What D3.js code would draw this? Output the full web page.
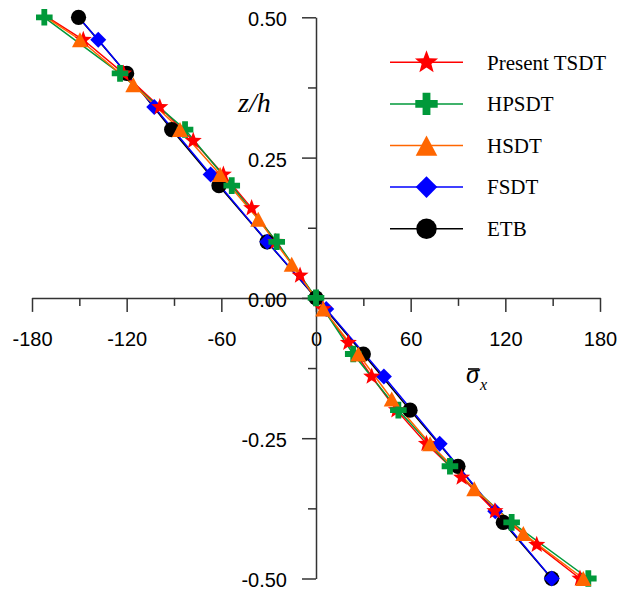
<!DOCTYPE html>
<html>
<head>
<meta charset="utf-8">
<script src="https://cdn.jsdelivr.net/npm/d3@7"></script>
<style>
  body { margin: 0; background: #fff; }
  svg { display: block; }
</style>
</head>
<body>
<svg id="stressViz" width="627" height="604"></svg>
<script>
// ticks
const xTicks = [-180, -120, -60, 0, 60, 120, 180];
const xMinorTicks = [-150, -90, -30, 30, 90, 150];
const yTicks = [0.5, 0.25, 0, -0.25, -0.5];
const yMinorTicks = [0.375, 0.125, -0.125, -0.375];

const seriesNames = ["Present TSDT", "HPSDT", "HSDT", "FSDT", "ETB"];

// Present TSDT (first point is the line end at the top face)
const tsdtZ = [0.5, 0.46, 0.40, 0.34, 0.28, 0.22, 0.16, 0.10, 0.04, -0.02, -0.08, -0.14, -0.20, -0.26, -0.32, -0.38, -0.44, -0.50];
const tsdtX = [-170, -147.5, -122, -99, -77.8, -58.7, -40.8, -25.5, -10.1, 4.5, 20.5, 35.3, 51, 70, 92.3, 113.4, 139.9, 167.3];

// HPSDT
const hpsdtZ = [0.5, 0.4, 0.3, 0.2, 0.1, 0, -0.1, -0.2, -0.3, -0.4, -0.5];
const hpsdtX = [-172.2, -124.2, -83, -53.4, -24.9, 0, 23.6, 52.2, 84.9, 124, 172.6];

// HSDT
const hsdtZ = [0.5, 0.46, 0.38, 0.30, 0.22, 0.14, 0.06, -0.02, -0.10, -0.18, -0.26, -0.34, -0.42, -0.50];
const hsdtX = [-171, -149.6, -115.8, -86.2, -60.8, -36.6, -15.4, 4.6, 26.8, 48, 72.3, 100.3, 131.4, 169.4];

// FSDT
const fsdtZ = [0.5, 0.46, 0.34, 0.22, 0.10, -0.02, -0.14, -0.26, -0.38, -0.50];
const fsdtX = [-150.5, -138, -102.5, -66.8, -30.9, 6.5, 43, 78.4, 113.6, 149.4];

// ETB
const etbZ = [0.5, 0.4, 0.3, 0.2, 0.1, 0, -0.1, -0.2, -0.3, -0.4, -0.5];
const etbX = [-150.5, -120, -91.5, -61.5, -31, 0, 30, 59.6, 90, 118.7, 149.4];

const SERIES = [
  { name: seriesNames[0], z: tsdtZ, x: tsdtX, color: "#ff0000", marker: "star", markFrom: 1 },
  { name: seriesNames[1], z: hpsdtZ, x: hpsdtX, color: "#00993a", marker: "plus", markFrom: 0 },
  { name: seriesNames[2], z: hsdtZ, x: hsdtX, color: "#ff6600", marker: "triangle", markFrom: 1 },
  { name: seriesNames[3], z: fsdtZ, x: fsdtX, color: "#0000ff", marker: "diamond", markFrom: 1 },
  { name: seriesNames[4], z: etbZ, x: etbX, color: "#000000", marker: "circle", markFrom: 0 }
];

// marker drawing order (bottom to top)
const markerOrder = [4, 3, 0, 1, 2];

run();

function run () {
  const svg = d3.select("#stressViz");
  const s = computeScales();
  drawAxes(svg, s);
  drawSeries(svg, s);
  drawLegend(svg);
}

function computeScales () {
  return {
    x: d3.scaleLinear().domain([-180, 180]).range([32, 600]),
    y: d3.scaleLinear().domain([-0.5, 0.5]).range([578.5, 17.3])
  };
}

function markerPath (type, big) {
  const k = big ? 1.35 : 1;
  const p = d3.path();
  if (type === "star") {
    const R = 9 * k, r = R * 0.42;
    for (let i = 0; i < 10; i++) {
      const a = -Math.PI / 2 + i * Math.PI / 5;
      const rr = i % 2 === 0 ? R : r;
      if (i === 0) p.moveTo(rr * Math.cos(a), rr * Math.sin(a));
      else p.lineTo(rr * Math.cos(a), rr * Math.sin(a));
    }
  } else if (type === "plus") {
    const a = 8.3 * k, t = 2.9 * k;
    p.moveTo(-t, -a); p.lineTo(t, -a); p.lineTo(t, -t); p.lineTo(a, -t);
    p.lineTo(a, t); p.lineTo(t, t); p.lineTo(t, a); p.lineTo(-t, a);
    p.lineTo(-t, t); p.lineTo(-a, t); p.lineTo(-a, -t); p.lineTo(-t, -t);
  } else if (type === "triangle") {
    const w = 16 * k, h = 15 * k;
    p.moveTo(0, -h / 2); p.lineTo(w / 2, h / 2); p.lineTo(-w / 2, h / 2);
  } else if (type === "diamond") {
    const r = 8 * k;
    p.moveTo(0, -r); p.lineTo(r, 0); p.lineTo(0, r); p.lineTo(-r, 0);
  } else {
    const r = 7.6 * k;
    p.moveTo(r, 0); p.arc(0, 0, r, 0, 2 * Math.PI);
  }
  p.closePath();
  return p.toString();
}

function styleAxis (g) {
  g.selectAll(".domain").attr("stroke", "#333").attr("stroke-width", 1.5);
  g.selectAll(".tick line").attr("stroke", "#333").attr("stroke-width", 1.5);
  g.attr("font-family", "'Liberation Sans', Arial, sans-serif")
   .attr("font-size", 20);
  g.selectAll(".tick text").attr("fill", "#000");
}

function drawAxes (svg, s) {
  // x axis through z = 0
  const gx = svg.append("g")
    .attr("transform", `translate(0,${s.y(0)})`)
    .call(d3.axisBottom(s.x).tickValues(xTicks).tickSize(14).tickSizeOuter(0)
      .tickPadding(20).tickFormat(d => String(d)));
  styleAxis(gx);

  const gxm = svg.append("g")
    .attr("transform", `translate(0,${s.y(0)})`)
    .call(d3.axisBottom(s.x).tickValues(xMinorTicks).tickSize(8).tickSizeOuter(0).tickFormat(""));
  styleAxis(gxm);
  gxm.select(".domain").remove();

  // y axis through x = 0
  const gy = svg.append("g")
    .attr("transform", `translate(${s.x(0)},0)`)
    .call(d3.axisLeft(s.y).tickValues(yTicks).tickSize(14).tickSizeOuter(0)
      .tickPadding(15).tickFormat(d => d.toFixed(2)));
  styleAxis(gy);
  gy.selectAll(".tick text").attr("dy", "0.42em");

  const gym = svg.append("g")
    .attr("transform", `translate(${s.x(0)},0)`)
    .call(d3.axisLeft(s.y).tickValues(yMinorTicks).tickSize(8).tickSizeOuter(0).tickFormat(""));
  styleAxis(gym);
  gym.select(".domain").remove();

  // axis titles
  svg.append("text")
    .attr("x", 238)
    .attr("y", 112)
    .style("font-family", "'Liberation Serif', 'Times New Roman', serif")
    .style("font-style", "italic")
    .style("font-size", "28px")
    .text("z/h");

  const sig = svg.append("g").attr("transform", "translate(466,383)");
  sig.append("text")
    .style("font-family", "'Liberation Serif', 'Times New Roman', serif")
    .style("font-style", "italic")
    .style("font-size", "27px")
    .text("σ");
  sig.append("line")
    .attr("x1", 2).attr("x2", 13)
    .attr("y1", -14).attr("y2", -14)
    .attr("stroke", "#000").attr("stroke-width", 1.6);
  sig.append("text")
    .attr("x", 14)
    .attr("y", 7)
    .style("font-family", "'Liberation Serif', 'Times New Roman', serif")
    .style("font-style", "italic")
    .style("font-size", "16px")
    .text("x");
}

function drawSeries (svg, s) {
  const line = d3.line()
    .x(d => s.x(d[0]))
    .y(d => s.y(d[1]));

  const lines = svg.append("g");
  markerOrder.forEach(function (i) {
    const ser = SERIES[i];
    const pts = ser.x.map((v, j) => [v, ser.z[j]]);
    lines.append("path")
      .attr("d", line(pts))
      .attr("fill", "none")
      .attr("stroke", ser.color)
      .attr("stroke-width", 1.5);
  });

  const marks = svg.append("g");
  markerOrder.forEach(function (i) {
    const ser = SERIES[i];
    const pts = ser.x.map((v, j) => [v, ser.z[j]]).slice(ser.markFrom);
    marks.append("g")
      .selectAll("path")
      .data(pts)
      .join("path")
      .attr("transform", d => `translate(${s.x(d[0])},${s.y(d[1])})`)
      .attr("d", markerPath(ser.marker, false))
      .attr("fill", ser.color);
  });
}

function drawLegend (svg) {
  const top = 62.3, step = 41.6;
  const g = svg.append("g");
  SERIES.forEach(function (ser, i) {
    const cy = top + i * step;
    g.append("line")
      .attr("x1", 390).attr("x2", 463)
      .attr("y1", cy).attr("y2", cy)
      .attr("stroke", ser.color)
      .attr("stroke-width", 1.5);
    g.append("path")
      .attr("transform", `translate(426.5,${cy})`)
      .attr("d", markerPath(ser.marker, true))
      .attr("fill", ser.color);
    g.append("text")
      .attr("x", 487)
      .attr("y", cy + 7.2)
      .style("font-family", "'Liberation Serif', 'Times New Roman', serif")
      .style("font-size", "21px")
      .text(ser.name);
  });
}
</script>
</body>
</html>
